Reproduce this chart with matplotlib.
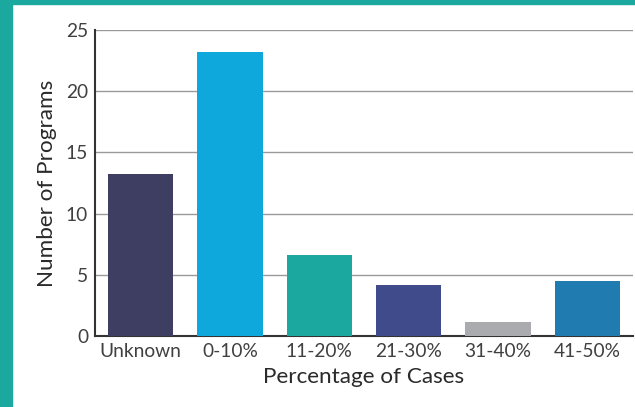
import matplotlib
matplotlib.use("Agg")
import matplotlib.pyplot as plt
from matplotlib.patches import Rectangle

categories = ["Unknown", "0-10%", "11-20%", "21-30%", "31-40%", "41-50%"]
values = [13.2, 23.2, 6.6, 4.2, 1.15, 4.5]
colors = ["#3e3d62", "#0fa8dc", "#1aa89f", "#3f4b8b", "#a9abae", "#1f7bb0"]
yticks = [0, 5, 10, 15, 20, 25]

plt.rcParams['font.family'] = ['Lato', 'DejaVu Sans']
W, H = 635, 407
fig = plt.figure(figsize=(W/100, H/100), dpi=100)
fig.patches.append(Rectangle((0, 0), 12/W, 1, transform=fig.transFigure, color="#1aa89f", zorder=0))
fig.patches.append(Rectangle((0, 1-4/H), 1, 4/H, transform=fig.transFigure, color="#1aa89f", zorder=0))

ax = fig.add_axes([95/W, 1-336/H, (633-95)/W, (336-30)/H])
x = range(len(categories))
ax.bar(x, values, width=0.73, color=colors, zorder=3)
ax.set_xlim(-0.51, 5.51)
ax.set_ylim(0, 25)
ax.set_yticks(yticks)
ax.set_xticks(list(x))
ax.set_xticklabels(categories)
ax.yaxis.grid(True, color="#9a9a9a", linewidth=1.0, zorder=0)
ax.set_axisbelow(True)
for s in ["top", "right"]:
    ax.spines[s].set_visible(False)
ax.spines["left"].set_color("#333333")
ax.spines["bottom"].set_color("#333333")
ax.spines["left"].set_linewidth(1.5)
ax.spines["bottom"].set_linewidth(1.5)
ax.tick_params(axis="both", length=0, labelsize=13.8, labelcolor="#404040")
ax.tick_params(axis="y", pad=5)
ax.tick_params(axis="x", pad=5)
ax.set_xlabel("Percentage of Cases", fontsize=16.2, color="#2a2a2a", labelpad=5)
ax.set_ylabel("Number of Programs", fontsize=16.2, color="#2a2a2a", labelpad=6)
fig.savefig("out.png", dpi=100)
